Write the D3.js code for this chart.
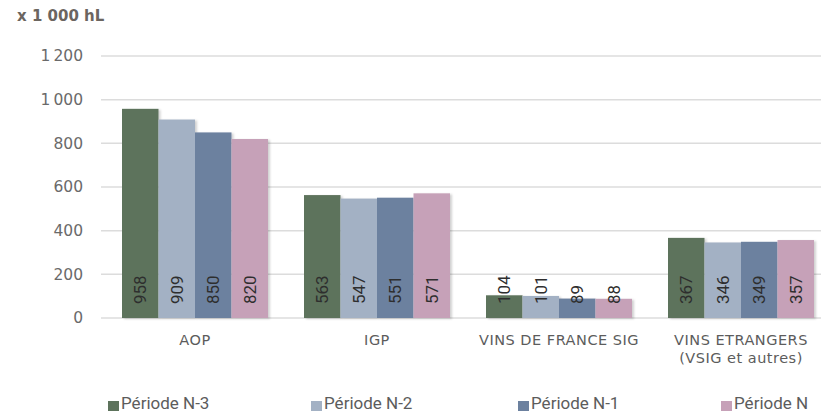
<!DOCTYPE html>
<html lang="fr">
<head>
  <meta charset="UTF-8">
  <title>Volumes par catégorie</title>
  <style>
    html, body { margin: 0; padding: 0; background: #fff; overflow: hidden; }
    svg { display: block; }
    text { font-family: "DejaVu Sans", sans-serif; }
    .grid line { stroke: #dcdcdc; stroke-width: 1.5; }
    .axis text { fill: #6a6a6a; font-size: 15.5px; font-family: "DejaVu Sans", sans-serif; }
    .cat text { fill: #5c5c5c; font-size: 14.5px; letter-spacing: 0.5px; }
    .val { fill: #2e2e2e; font-size: 17px; font-family: Roboto, sans-serif; }
    .legend text { fill: #5c5c5c; font-size: 17px; font-family: Roboto, sans-serif; }
  </style>
</head>
<body>
<div id="chart"></div>
<script src="https://d3js.org/d3.v7.js"></script>
<script type="text/javascript">

  // data
  var categories = ["AOP", "IGP", "VINS DE FRANCE SIG", "VINS ETRANGERS|(VSIG et autres)"];
  var series = ["Période N-3", "Période N-2", "Période N-1", "Période N"];
  var valuesN3 = [958, 563, 104, 367];
  var valuesN2 = [909, 547, 101, 346];
  var valuesN1 = [850, 551, 89, 349];
  var valuesN  = [820, 571, 88, 357];
  var yTicks = [0, 200, 400, 600, 800, 1000, 1200];
  var colors = ["#5d735c", "#a3b1c4", "#6c819f", "#c6a1b8"];

  var allValues = [valuesN3, valuesN2, valuesN1, valuesN];

  var w = 821, h = 416;
  var margin = {top: 56, right: 0, bottom: 98, left: 101};
  var innerHeight = h - margin.top - margin.bottom;

  var svg = d3.select("#chart")
          .append("svg")
          .attr("width", w)
          .attr("height", h);

  // unit label
  svg.append("text")
          .attr("x", 17)
          .attr("y", 21)
          .style("font-size", "15px")
          .style("font-weight", "bold")
          .style("fill", "#6b6560")
          .text("x 1 000 hL");

  var yScale = d3.scaleLinear()
          .domain([0, 1200])
          .range([margin.top + innerHeight, margin.top]);

  var x0 = d3.scaleBand()
          .domain(categories)
          .range([margin.left, margin.left + 4 * 182]);

  var x1 = d3.scaleBand()
          .domain(series)
          .range([21, 21 + 146]);

  // gridlines
  svg.append("g")
          .attr("class", "grid")
          .selectAll("line")
          .data(yTicks)
          .enter()
          .append("line")
          .attr("x1", margin.left)
          .attr("x2", w)
          .attr("y1", d => yScale(d))
          .attr("y2", d => yScale(d));

  // y axis labels
  var yAxis = d3.axisLeft(yScale)
          .tickValues(yTicks)
          .tickSize(0)
          .tickPadding(18)
          .tickFormat(d => d3.format(",")(d).replace(",", "\u2009"));

  svg.append("g")
          .attr("class", "axis")
          .attr("transform", `translate(${margin.left}, 0)`)
          .call(yAxis)
          .call(g => g.select(".domain").remove());

  // shadow
  var defs = svg.append("defs");
  var f = defs.append("filter").attr("id", "shadow")
          .attr("x", "-10%").attr("y", "-10%").attr("width", "130%").attr("height", "130%");
  f.append("feDropShadow").attr("dx", 2).attr("dy", 1).attr("stdDeviation", 1.2)
          .attr("flood-color", "#000").attr("flood-opacity", 0.18);

  // bars
  var groups = svg.append("g")
          .selectAll("g")
          .data(categories)
          .enter()
          .append("g")
          .attr("transform", d => `translate(${x0(d)}, 0)`);

  groups.selectAll("rect")
          .data((c, i) => series.map((s, j) => ({s: s, j: j, v: allValues[j][i]})))
          .enter()
          .append("rect")
          .attr("x", d => x1(d.s))
          .attr("y", d => yScale(d.v))
          .attr("width", x1.bandwidth())
          .attr("height", d => yScale(0) - yScale(d.v))
          .attr("fill", d => colors[d.j])
          .attr("filter", "url(#shadow)");

  groups.selectAll("text.val")
          .data((c, i) => series.map((s, j) => ({s: s, j: j, v: allValues[j][i]})))
          .enter()
          .append("text")
          .attr("class", "val")
          .attr("transform", d => `translate(${x1(d.s) + x1.bandwidth() / 2 + 6}, ${yScale(0) - 14}) rotate(-90)`)
          .text(d => d.v);

  // category labels
  var cat = svg.append("g").attr("class", "cat");
  categories.forEach(function(c) {
    var t = cat.append("text")
            .attr("text-anchor", "middle")
            .attr("y", 345);
    c.split("|").forEach(function(line, k) {
      t.append("tspan")
              .attr("x", x0(c) + 21 + 73)
              .attr("dy", k === 0 ? 0 : 18)
              .text(line);
    });
  });

  // legend
  var legendX = [108, 311, 518, 721];
  var legend = svg.append("g").attr("class", "legend");
  series.forEach(function(s, j) {
    legend.append("rect")
            .attr("x", legendX[j])
            .attr("y", 401)
            .attr("width", 11)
            .attr("height", 10)
            .attr("fill", colors[j]);
    legend.append("text")
            .attr("x", legendX[j] + 13)
            .attr("y", 409)
            .text(s);
  });

</script>
</body>
</html>
